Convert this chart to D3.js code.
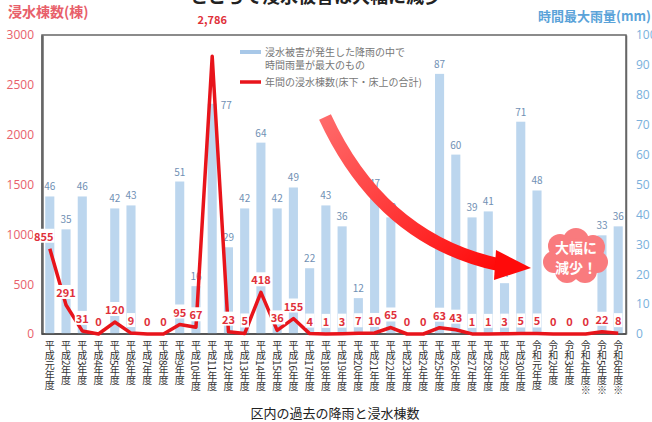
<!DOCTYPE html>
<html>
<head>
<meta charset="utf-8">
<script src="https://cdn.jsdelivr.net/npm/d3@7"></script>
<style>
  body { margin: 0; background: #fff; }
  svg { font-family: "Noto Sans CJK JP", "Noto Sans", sans-serif; }
</style>
</head>
<body>
<svg id="chart" width="652" height="422"></svg>
<script>
// years (fiscal)
const years = [
  "平成元年度", "平成2年度", "平成3年度", "平成4年度", "平成5年度", "平成6年度",
  "平成7年度", "平成8年度", "平成9年度", "平成10年度", "平成11年度", "平成12年度",
  "平成13年度", "平成14年度", "平成15年度", "平成16年度", "平成17年度", "平成18年度",
  "平成19年度", "平成20年度", "平成21年度", "平成22年度", "平成23年度", "平成24年度",
  "平成25年度", "平成26年度", "平成27年度", "平成28年度", "平成29年度", "平成30年度",
  "令和元年度", "令和2年度", "令和3年度", "令和4年度※", "令和5年度※", "令和6年度※"
];
// max hourly rainfall (mm), null = no flood that year
const rain = [46, 35, 46, null, 42, 43, null, null, 51, 16, 77, 29,
  42, 64, 42, 49, 22, 43, 36, 12, 47, 39, null, null,
  87, 60, 39, 41, 17, 71, 48, null, null, null, 33, 36];
// flooded buildings per year
const floods = [855, 291, 31, 0, 120, 9, 0, 0, 95, 67, 2786, 23,
  5, 418, 36, 155, 4, 1, 3, 7, 10, 65, 0, 0,
  63, 43, 1, 1, 3, 5, 5, 0, 0, 0, 22, 8];
const leftTicks = [0, 500, 1000, 1500, 2000, 2500, 3000];
const rightTicks = [0, 10, 20, 30, 40, 50, 60, 70, 80, 90, 100];

const svg = d3.select("#chart");
const pL = 42, pR = 626, pT = 35, pB = 334;

const x = d3.scaleBand().domain(years).range([pL, pR]).paddingInner(0.44).paddingOuter(0.2);
const yL = d3.scaleLinear().domain([0, 3000]).range([pB, pT]);
const yR = d3.scaleLinear().domain([0, 100]).range([pB, pT]);
const cx = d => x(d) + x.bandwidth() / 2;

const red = "#e8141b", pink = "#e8606a", blue = "#5ba3d9";

// cut-off heading at the very top
svg.append("text").attr("x", 190).attr("y", 3)
  .attr("font-size", 18).attr("font-weight", "bold").attr("fill", "#222")
  .text("ところで浸水被害は大幅に減少");

// axis titles
svg.append("text").attr("x", 8).attr("y", 17).attr("font-size", 14).attr("font-weight", "bold")
  .attr("fill", pink).text("浸水棟数(棟)");
svg.append("text").attr("x", 651).attr("y", 21).attr("text-anchor", "end")
  .attr("font-size", 13).attr("font-weight", "bold").attr("fill", blue).text("時間最大雨量(mm)");

// frame
svg.append("rect").attr("x", pL).attr("y", pT).attr("width", pR - pL).attr("height", pB - pT)
  .attr("fill", "none").attr("stroke", "#666").attr("stroke-width", 1.5);

// left axis
const gL = svg.append("g").attr("transform", `translate(${pL},0)`)
  .call(d3.axisLeft(yL).tickValues(leftTicks).tickFormat(d3.format("d")).tickSize(0).tickPadding(8));
gL.select(".domain").attr("stroke", "#666").attr("stroke-width", 2.5);
gL.selectAll("text").attr("fill", pink).attr("font-size", 12)
  .attr("font-family", "'Open Sans', sans-serif");

// right axis
const gR = svg.append("g").attr("transform", `translate(${pR},0)`)
  .call(d3.axisRight(yR).tickValues(rightTicks).tickSize(0).tickPadding(10));
gR.select(".domain").attr("stroke", "#666").attr("stroke-width", 1.5);
gR.selectAll("text").attr("fill", "#7ab0dc").attr("font-size", 12)
  .attr("font-family", "'Open Sans', sans-serif");

// rain bars
const rainData = years.map((y, i) => ({ y, v: rain[i], i })).filter(d => d.v !== null);
svg.append("g").selectAll("rect").data(rainData).enter().append("rect")
  .attr("x", d => x(d.y)).attr("y", d => yR(d.v))
  .attr("width", x.bandwidth()).attr("height", d => pB - yR(d.v))
  .attr("fill", "#bcd6ee");

const peakIdx = floods.indexOf(d3.max(floods));
svg.append("g").selectAll("text").data(rainData).enter().append("text")
  .attr("x", d => d.i === peakIdx ? cx(d.y) + 14 : cx(d.y))
  .attr("y", d => d.i === peakIdx ? yR(d.v) + 5 : yR(d.v) - 6)
  .attr("text-anchor", "middle").attr("font-size", 10).attr("fill", "#7090b4")
  .text(d => d.v);

// bottom axis line
svg.append("line").attr("x1", pL).attr("x2", pR).attr("y1", pB).attr("y2", pB)
  .attr("stroke", "#444").attr("stroke-width", 1.5);

// flood line
const fData = years.map((y, i) => ({ y, v: floods[i], i }));
svg.append("path").datum(fData)
  .attr("fill", "none").attr("stroke", red).attr("stroke-width", 3.5)
  .attr("stroke-linejoin", "round")
  .attr("d", d3.line().x(d => cx(d.y)).y(d => yL(d.v)));

// flood labels with white boxes
const fl = svg.append("g").selectAll("g").data(fData).enter().append("g")
  .attr("transform", d => {
    const off = d.i === peakIdx ? 36 : 12;
    const dx = d.i === 0 ? -6 : 0;
    return `translate(${cx(d.y) + dx},${yL(d.v) - off})`;
  });
fl.append("text")
  .attr("text-anchor", "middle").attr("dy", "0.36em")
  .attr("font-size", 11).attr("font-weight", "bold").attr("fill", "#e0303a")
  .text(d => d3.format(d.v >= 1000 ? "," : "d")(d.v));
fl.each(function () {
  const g = d3.select(this);
  const b = g.select("text").node().getBBox();
  if (g.datum().i !== peakIdx) {
    g.insert("rect", "text").attr("x", b.x - 1).attr("y", b.y + 1)
      .attr("width", b.width + 2).attr("height", b.height - 2).attr("fill", "#fff");
  }
});

// x labels (vertical)
svg.append("g").selectAll("text").data(years).enter().append("text")
  .attr("x", d => cx(d)).attr("y", 340)
  .style("writing-mode", "vertical-rl")
  .attr("font-size", 10).attr("fill", "#333")
  .text(d => d);

// legend
const lg = svg.append("g").attr("font-size", 10).attr("fill", "#777");
lg.append("line").attr("x1", 240).attr("x2", 261).attr("y1", 52).attr("y2", 52)
  .attr("stroke", "#a8c8e8").attr("stroke-width", 4);
lg.append("text").attr("x", 265).attr("y", 56).text("浸水被害が発生した降雨の中で");
lg.append("text").attr("x", 265).attr("y", 69).text("時間雨量が最大のもの");
lg.append("line").attr("x1", 240).attr("x2", 261).attr("y1", 82).attr("y2", 82)
  .attr("stroke", red).attr("stroke-width", 3.5);
lg.append("text").attr("x", 265).attr("y", 86).text("年間の浸水棟数(床下・床上の合計)");

// big curved arrow
const defs = svg.append("defs");
const grad = defs.append("linearGradient").attr("id", "ag")
  .attr("x1", "0%").attr("y1", "0%").attr("x2", "100%").attr("y2", "100%");
grad.append("stop").attr("offset", "0%").attr("stop-color", "#ff6a6a");
grad.append("stop").attr("offset", "100%").attr("stop-color", "#ff0a0a");
svg.append("path")
  .attr("d", "M325,117 Q382,240 500,265")
  .attr("fill", "none").attr("stroke", "url(#ag)").attr("stroke-width", 13);
svg.append("path")
  .attr("d", "M496,250 L531,268 L494,280 Z")
  .attr("fill", "#ff0a0a");

// bubble
const bub = svg.append("g").attr("fill", "#f97b7e");
[[560, 246, 12], [576, 241, 13], [593, 247, 12], [597, 262, 11], [585, 271, 12],
 [567, 271, 12], [554, 262, 11], [576, 256, 18]].forEach(c => {
  bub.append("circle").attr("cx", c[0]).attr("cy", c[1]).attr("r", c[2]);
});
svg.append("text").attr("x", 576).attr("y", 253).attr("text-anchor", "middle")
  .attr("font-size", 14).attr("font-weight", "bold").attr("fill", "#fff").text("大幅に");
svg.append("text").attr("x", 576).attr("y", 273).attr("text-anchor", "middle")
  .attr("font-size", 14).attr("font-weight", "bold").attr("fill", "#fff").text("減少！");

// caption
svg.append("text").attr("x", 335).attr("y", 418).attr("text-anchor", "middle")
  .attr("font-size", 13).attr("fill", "#222").text("区内の過去の降雨と浸水棟数");
</script>
</body>
</html>
